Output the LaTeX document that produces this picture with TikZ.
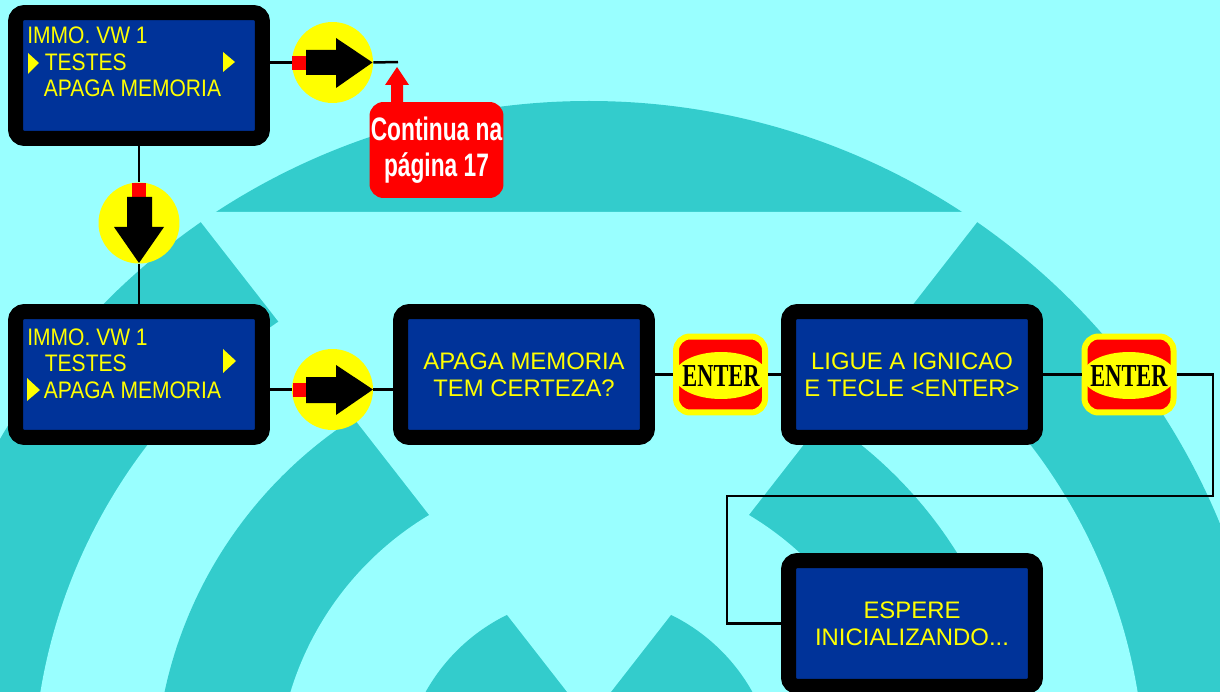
\documentclass[tikz,border=0pt]{standalone}
\usepackage{fontspec}
\setmainfont{Liberation Sans}
\newfontfamily\menufont[FakeStretch=0.88]{Liberation Sans}
\newfontfamily\callfont[FakeStretch=0.7]{Liberation Sans}
\newfontfamily\enterfont[FakeStretch=0.7]{Liberation Serif}
\usetikzlibrary{shapes.geometric}
\definecolor{skybg}{HTML}{99FFFF}
\definecolor{ringteal}{HTML}{33CCCC}
\definecolor{lcdblue}{HTML}{003399}
\definecolor{lampyellow}{HTML}{FFFF00}
\tikzset{
  lcdbox/.style={draw=black,fill=lcdblue,line width=0.3cm,rounded corners=0.18cm,minimum width=4.94cm,minimum height=2.52cm,inner sep=0,align=center,text=lampyellow,font=\fontsize{13.6}{15.3}\selectfont},
  menuline/.style={anchor=west,inner sep=0,text=lampyellow,font=\menufont\fontsize{13.6}{15.3}\selectfont},
  pushdot/.style={circle,fill=lampyellow,inner sep=0,minimum size=1.62cm},
  enterkey/.style={draw=lampyellow,fill=red,line width=0.12cm,rounded corners=0.28cm,minimum width=1.78cm,minimum height=1.52cm,inner sep=0},
  enteroval/.style={ellipse,fill=lampyellow,inner sep=0,minimum width=1.86cm,minimum height=0.94cm},
  entertext/.style={inner sep=0,text=black,font=\enterfont\bfseries\fontsize{18.2}{20}\selectfont},
  wire/.style={black,line width=0.05cm}
}
\begin{document}
\begin{tikzpicture}[x=0.02cm,y=-0.02cm]
\path[use as bounding box,clip] (0,0) rectangle (1220,692);
\fill[skybg] (0,0) rectangle (1220,692);
\fill[ringteal] (589,783) circle[radius=682];
\fill[skybg] (589,783) circle[radius=556];
\fill[ringteal] (589,783) circle[radius=434];
\fill[skybg] (589,783) circle[radius=312];
\fill[ringteal] (589,783) circle[radius=187];
\fill[skybg] (589,720) -- (193,212) -- (985,212) -- cycle;

\node[lcdbox] (menua) at (139,75.5) {};
\node[lcdbox] (menub) at (139,374.5) {};
\node[lcdbox] (apaga) at (524,374.5) {APAGA MEMORIA\\TEM CERTEZA?};
\node[lcdbox] (ligue) at (912,374.5) {LIGUE A IGNICAO\\E TECLE <ENTER>};
\node[lcdbox] (espere) at (912,623.5) {ESPERE\\INICIALIZANDO...};

\node[menuline] (titlea) at (27,35) {IMMO. VW 1};
\node[menuline] (testesa) at (44.5,62) {TESTES};
\node[menuline] (memoriaa) at (43.5,88) {APAGA MEMORIA};
\fill[lampyellow] (28,53) -- (39,63) -- (28,74) -- cycle;
\fill[lampyellow] (223,52) -- (235,62) -- (223,72) -- cycle;

\node[menuline] (titleb) at (27,337) {IMMO. VW 1};
\node[menuline] (testesb) at (44.5,363) {TESTES};
\node[menuline] (memoriab) at (43.5,390) {APAGA MEMORIA};
\fill[lampyellow] (223,349) -- (236,361) -- (223,373) -- cycle;
\fill[lampyellow] (27,378) -- (40,390) -- (27,401) -- cycle;

\node[pushdot] (pusha) at (332.5,62.5) {};
\fill[red] (292,56) rectangle (306,70);
\fill[black] (306,50) -- (336,50) -- (336,38) -- (372.5,62.5) -- (336,88) -- (336,75) -- (306,75) -- cycle;

\node[pushdot] (pushb) at (139,223) {};
\fill[red] (132,183) rectangle (146,197);
\fill[black] (127,197) -- (152,197) -- (152,227) -- (164,227) -- (139,263) -- (114,227) -- (127,227) -- cycle;

\node[pushdot] (pushc) at (332.5,389.5) {};
\fill[red] (293,383) rectangle (306,397);
\fill[black] (306,377) -- (336,377) -- (336,365) -- (373,389.5) -- (336,415) -- (336,403) -- (306,403) -- cycle;

\node[enterkey] (entera) at (720.5,374.5) {};
\node[enteroval] (ovala) at (721,375.5) {};
\node[entertext] (worda) at (721,376) {ENTER};
\node[enterkey] (enterb) at (1129,374.5) {};
\node[enteroval] (ovalb) at (1129,375.5) {};
\node[entertext] (wordb) at (1129,376) {ENTER};

\fill[red] (391,104) -- (391,85) -- (385,85) -- (397,67) -- (409,85) -- (403,85) -- (403,104) -- cycle;
\node[fill=red,text=white,rounded corners=0.28cm,minimum width=2.68cm,minimum height=1.92cm,inner sep=0,align=center,font=\callfont\bfseries\fontsize{18.5}{20.5}\selectfont] (pagina) at (436.5,150) {Continua na\\página 17};

\coordinate (freeend) at (398,62);
\coordinate (cornera) at (1213,374.5);
\coordinate (cornerb) at (1213,496);
\coordinate (cornerc) at (727,496);
\draw[wire] (pusha.west -| menua.east) -- (pusha.west);
\draw[wire] (pusha.east) -- (freeend);
\draw[wire] (menua.south) -- (pushb.north);
\draw[wire] (pushb.south) -- (menub.north);
\draw[wire] (pushc.west -| menub.east) -- (pushc.west);
\draw[wire] (pushc.east) -- (pushc.east -| apaga.west);
\draw[wire] (apaga.east) -- (entera.west);
\draw[wire] (entera.east) -- (ligue.west);
\draw[wire] (ligue.east) -- (enterb.west);
\draw[wire] (enterb.east) -- (cornera) -- (cornerb) -- (cornerc) -- (cornerc |- espere.west) -- (espere.west);
\end{tikzpicture}
\end{document}
